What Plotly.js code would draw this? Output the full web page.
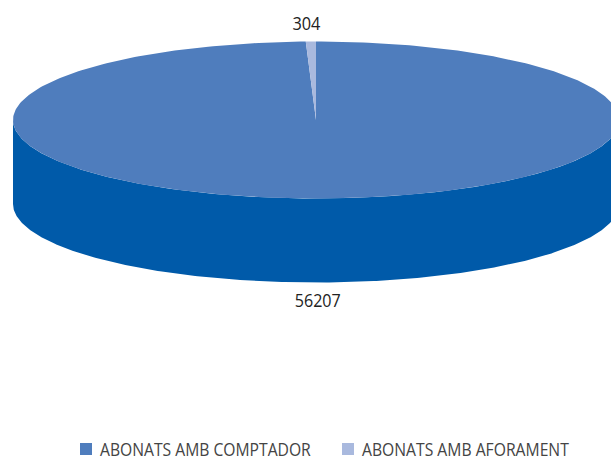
<!DOCTYPE html>
<html><head><meta charset="utf-8">
<script src="https://cdn.plot.ly/plotly-3.0.1.min.js"></script>
<style>html,body{margin:0;padding:0;background:#fff}</style></head>
<body><div id="chart" style="width:611px;height:458px"></div>
<script>
const categories = ["ABONATS AMB COMPTADOR", "ABONATS AMB AFORAMENT"];
const values = [56207, 304];
const colors = ["#4F7DBD", "#A9B9DE"];
const wallColor = "#005AA9";
const fontName = '"Open Sans","Noto Sans",sans-serif';

const W = 611, H = 458, cx = 316, cy = 120, rx = 303, ry = 78.5, depth = 84;
const total = values[0] + values[1];
const smallAngle = values[1] / total * 2 * Math.PI;

function rim(a0, a1, drop) {
  const xs = [], ys = [], n = 360;
  for (let i = 0; i <= n; i++) {
    const a = a0 + (a1 - a0) * i / n;
    xs.push(Math.sin(a));
    ys.push(Math.cos(a) - drop);
  }
  return [xs, ys];
}
const dropU = depth / ry;
const [mx, my] = rim(0, 2 * Math.PI - smallAngle, 0);
const [sx, sy] = rim(2 * Math.PI - smallAngle, 2 * Math.PI, 0);
const [fx, fy] = rim(Math.PI / 2, 3 * Math.PI / 2, 0);
const [bx, by] = rim(3 * Math.PI / 2, Math.PI / 2, dropU);

const traces = [
  {x: fx.concat(bx), y: fy.concat(by), mode: "lines", fill: "toself", fillcolor: wallColor,
   line: {width: 0, color: wallColor}, showlegend: false, hoverinfo: "skip"},
  {x: [0].concat(mx, [0]), y: [0].concat(my, [0]), mode: "lines", fill: "toself", fillcolor: colors[0],
   line: {width: 0, color: colors[0]}, showlegend: false, hoverinfo: "skip"},
  {x: [0].concat(sx, [0]), y: [0].concat(sy, [0]), mode: "lines", fill: "toself", fillcolor: colors[1],
   line: {width: 0, color: colors[1]}, showlegend: false, hoverinfo: "skip"},
  {x: [null], y: [null], mode: "markers", name: categories[0],
   marker: {symbol: "square", size: 12, color: colors[0]}},
  {x: [null], y: [null], mode: "markers", name: categories[1],
   marker: {symbol: "square", size: 12, color: colors[1]}}
];

const layout = {
  width: W, height: H,
  margin: {l: 0, r: 0, t: 0, b: 0},
  paper_bgcolor: "#fff", plot_bgcolor: "#fff",
  font: {family: fontName, color: "#333"},
  xaxis: {range: [-cx / rx, (W - cx) / rx], visible: false, fixedrange: true},
  yaxis: {range: [(cy - H) / ry, cy / ry], visible: false, fixedrange: true},
  showlegend: true,
  legend: {orientation: "h", x: 0.1, xanchor: "left", y: 0, yanchor: "bottom",
           font: {size: 19, family: fontName, color: "#444"},
           entrywidth: 217, entrywidthmode: "pixels", itemclick: false, itemdoubleclick: false,
           bgcolor: "rgba(0,0,0,0)", traceorder: "normal"},
  annotations: [
    {x: (306 - cx) / rx, y: (cy - 23) / ry, xref: "x", yref: "y", text: String(values[1]),
     showarrow: false, font: {size: 18, family: fontName, color: "#222"}},
    {x: (317 - cx) / rx, y: (cy - 300) / ry, xref: "x", yref: "y", text: String(values[0]),
     showarrow: false, font: {size: 18, family: fontName, color: "#222"}}
  ]
};
function condense(node, width) {
  const ax = +node.getAttribute("x") || 0;
  const k = width / node.getComputedTextLength();
  node.setAttribute("transform", "translate(" + ax + ",0) scale(" + k + ",1) translate(" + (-ax) + ",0)");
}
Plotly.newPlot("chart", traces, layout, {displayModeBar: false, staticPlot: true}).then(gd => {
  gd.querySelectorAll(".legendtext").forEach((t, i) => {
    t.setAttribute("x", +t.getAttribute("x") - 6);
    condense(t, i === 0 ? 211 : 207);
  });
  gd.querySelectorAll(".annotation-text").forEach((t, i) => {
    condense(t, i === 0 ? 28 : 46);
  });
  const legend = gd.querySelector(".legend");
  legend.querySelectorAll("[clip-path]").forEach(n => n.removeAttribute("clip-path"));
  legend.querySelectorAll("clipPath").forEach(n => n.remove());
  const box = legend.querySelector(".legendpoints path").getBoundingClientRect();
  const m = /translate\(([-\d.]+)[ ,]+([-\d.]+)\)/.exec(legend.getAttribute("transform"));
  const dx = 86 - (box.left + box.right) / 2, dy = 449 - (box.top + box.bottom) / 2;
  legend.setAttribute("transform", "translate(" + (+m[1] + dx) + "," + (+m[2] + dy) + ")");
});
</script></body></html>
